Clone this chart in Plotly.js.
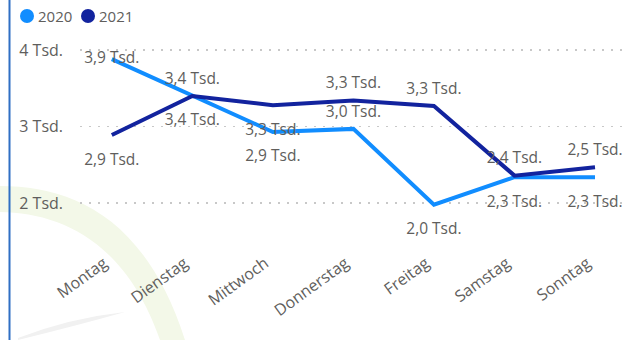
<!DOCTYPE html>
<html>
<head>
<meta charset="utf-8">
<script src="https://cdn.plot.ly/plotly-3.0.1.min.js"></script>
<style>
  html, body { margin: 0; padding: 0; background: #ffffff; }
  #chart { width: 624px; height: 340px; }
</style>
</head>
<body>
<div id="chart"></div>
<script>
// Wochentage
const days = ['Montag', 'Dienstag', 'Mittwoch', 'Donnerstag', 'Freitag', 'Samstag', 'Sonntag'];

// Werte in Tausend
const values2020 = [3.88, 3.41, 2.93, 2.97, 1.98, 2.34, 2.34];
const values2021 = [2.89, 3.40, 3.28, 3.34, 3.27, 2.36, 2.47];

const seriesNames = ['2020', '2021'];
const yTicks = [2, 3, 4];
const yTickText = yTicks.map(v => v + ' Tsd.');

// Lage der Datenbeschriftungen je Punkt
const labelPos2020 = ['middle center', 'bottom center', 'bottom center', 'top center', 'bottom center', 'bottom center', 'bottom center'];
const labelPos2021 = ['bottom center', 'top center', 'bottom center', 'top center', 'top center', 'top center', 'top center'];

const colors = ['#118DFF', '#12239E'];
const textColor = '#605E5C';
const fontFamily = '"Segoe UI", "Open Sans", "Noto Sans", sans-serif';

const W = 624, H = 340;
const M = { l: 80, r: 0, t: 40, b: 100 };
const PW = W - M.l - M.r, PH = H - M.t - M.b;
const px2x = px => (px - M.l) / PW;
const py2y = py => 1 - (py - M.t) / PH;

// unsichtbare Marker steuern den Abstand der Beschriftung zur Linie
const markerSizes = pos => pos.map(p => p.indexOf('bottom') !== -1 ? 27 : 12);

function lineTrace(vals, pos, color, name) {
  return {
    type: 'scatter',
    mode: 'lines+markers+text',
    x: days,
    y: vals,
    name: name,
    line: { color: color, width: 4 },
    marker: { size: markerSizes(pos), color: 'rgba(0,0,0,0)', line: { width: 0, color: 'rgba(0,0,0,0)' } },
    texttemplate: '%{y:.1f} Tsd.',
    textposition: pos,
    textfont: { family: fontFamily, size: 15.5, color: textColor },
    cliponaxis: false,
    hoverinfo: 'skip',
    showlegend: false
  };
}

const data = [
  lineTrace(values2020, labelPos2020, colors[0], seriesNames[0]),
  lineTrace(values2021, labelPos2021, colors[1], seriesNames[1])
];

// Hintergrund-Bogen und Rahmenlinie
function pathFromPixels(cmds) {
  return cmds.map(c => {
    if (c.length === 1) return c[0];
    const out = [c[0]];
    for (let i = 1; i < c.length; i += 2) {
      out.push(px2x(c[i]).toFixed(4) + ',' + py2y(c[i + 1]).toFixed(4));
    }
    return out.join(' ');
  }).join(' ');
}

const arcPath = pathFromPixels([
  ['M', 0, 186],
  ['C', 70, 186, 145, 215, 185, 340],
  ['L', 160, 340],
  ['C', 125, 240, 60, 213, 0, 212],
  ['Z']
]);
const swooshPath = pathFromPixels([
  ['M', 18, 338],
  ['Q', 70, 318, 125, 312],
  ['Q', 75, 326, 18, 340],
  ['Z']
]);

const shapes = [
  { type: 'path', xref: 'paper', yref: 'paper', path: arcPath, fillcolor: '#f3f8e8', line: { width: 0 }, layer: 'below' },
  { type: 'path', xref: 'paper', yref: 'paper', path: swooshPath, fillcolor: '#f1f1f1', line: { width: 0 }, layer: 'below' },
  { type: 'line', xref: 'paper', yref: 'paper', x0: px2x(9.5), x1: px2x(9.5), y0: py2y(0), y1: py2y(340), line: { color: '#2f6fc4', width: 2 } }
];

// Legende
const annotations = [];
const legendX = [27, 88];
seriesNames.forEach((n, i) => {
  shapes.push({
    type: 'circle', xref: 'paper', yref: 'paper',
    xsizemode: 'pixel', ysizemode: 'pixel',
    xanchor: px2x(legendX[i]), yanchor: py2y(16),
    x0: -7, x1: 7, y0: -7, y1: 7,
    fillcolor: colors[i], line: { width: 0 }
  });
  annotations.push({
    xref: 'paper', yref: 'paper', x: px2x(legendX[i] + 9), y: py2y(16),
    xanchor: 'left', yanchor: 'middle', showarrow: false,
    text: n, font: { family: fontFamily, size: 15, color: textColor }
  });
});

const layout = {
  width: W, height: H,
  margin: M,
  paper_bgcolor: '#ffffff',
  plot_bgcolor: 'rgba(0,0,0,0)',
  separators: ',.',
  showlegend: false,
  font: { family: fontFamily, color: textColor },
  xaxis: {
    type: 'category',
    range: [-0.395, 6.36],
    showgrid: false, zeroline: false, showline: false,
    tickangle: -36,
    ticklabelshift: -8,
    ticklabelstandoff: 10,
    tickfont: { family: fontFamily, size: 16, color: textColor },
    fixedrange: true
  },
  yaxis: {
    range: [1.52, 4.13],
    tickmode: 'array',
    tickvals: yTicks,
    ticktext: yTickText,
    showgrid: true,
    gridcolor: '#c8c8c8',
    gridwidth: 1.5,
    griddash: '2px,7px',
    zeroline: false, showline: false,
    ticklabelstandoff: 16,
    tickfont: { family: fontFamily, size: 16, color: textColor },
    fixedrange: true
  },
  shapes: shapes,
  annotations: annotations
};

Plotly.newPlot('chart', data, layout, { displayModeBar: false, staticPlot: true });
</script>
</body>
</html>
